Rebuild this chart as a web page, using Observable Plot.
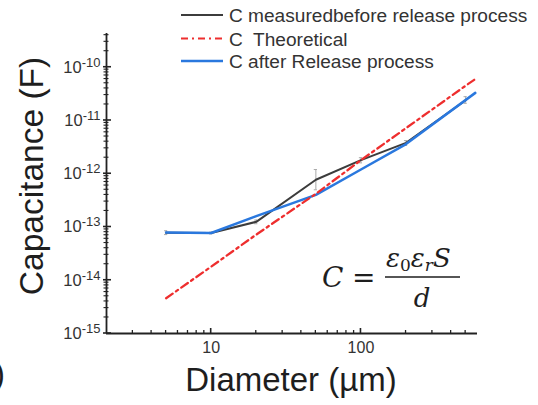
<!DOCTYPE html>
<html><head><meta charset="utf-8">
<script src="https://cdn.jsdelivr.net/npm/d3@7"></script>
<script src="https://cdn.jsdelivr.net/npm/@observablehq/plot@0.6"></script>
<style>
body{margin:0;background:#fff;}
#chart{position:relative;width:538px;height:405px;overflow:hidden;}
</style>
</head><body><div id="chart"></div>
<script>
// ---- data ----
const measuredDiam   = [5, 10, 20, 50, 100, 200, 500];
const measuredBefore = [7.8e-14, 7.7e-14, 1.25e-13, 7.7e-13, 1.8e-12, 3.8e-12, 2.4e-11];
const measuredErrLow = [7.2e-14, 7.4e-14, 1.15e-13, 5.0e-13, 1.6e-12, 3.4e-12, 2.1e-11];
const measuredErrHigh= [8.5e-14, 8.0e-14, 1.35e-13, 1.2e-12, 2.0e-12, 4.2e-12, 2.8e-11];
const afterDiam      = [5, 10, 20, 50, 100, 200, 580];
const afterRelease   = [7.9e-14, 7.7e-14, 1.6e-13, 4.0e-13, 1.2e-12, 3.6e-12, 3.3e-11];
const theoDiam       = [5, 10, 20, 50, 100, 200, 500, 570];
const theoretical    = [4.6e-15, 1.8e-14, 7.2e-14, 4.2e-13, 1.8e-12, 7.2e-12, 4.5e-11, 5.8e-11];
const xMajor = [10, 100];
const xMinor = [3,4,5,6,7,8,9,20,30,40,50,60,70,80,90,200,300,400,500];
const yMajor = [1e-15, 1e-14, 1e-13, 1e-12, 1e-11, 1e-10];
const yMinorMult = [2,3,4,5,6,7,8,9];
const legendLabels = ["C measuredbefore release process", "C  Theoretical", "C after Release process"];
const xLabel = "Diameter (µm)";
const yLabel = "Capacitance (F)";

const xMin = 2, xMax = 600, yMin = 1e-15, yMax = 4.3e-10;
const yMinor = [];
for (const m of yMajor) for (const k of yMinorMult) if (m*k < yMax) yMinor.push(m*k);

const measured = measuredDiam.map((d,i)=>({d, c: measuredBefore[i], lo: measuredErrLow[i], hi: measuredErrHigh[i]}));
const after = afterDiam.map((d,i)=>({d, c: afterRelease[i]}));
const theory = theoDiam.map((d,i)=>({d, c: theoretical[i]}));

const font = "'Liberation Sans', Arial, sans-serif";
const axisColor = "#222";

const svg = Plot.plot({
  width: 538, height: 405,
  marginLeft: 106, marginRight: 61, marginTop: 33, marginBottom: 72,
  style: {fontFamily: font, background: "white", color: axisColor},
  x: {type: "log", domain: [xMin, xMax]},
  y: {type: "log", domain: [yMin, yMax]},
  marks: [
    Plot.axisY({ticks: yMajor, tickSize: 0, tickPadding: 6, fontSize: 16.5, label: null, color: "#333",
      tickFormat: d => String(Math.round(Math.log10(d)))}),
    Plot.axisX({ticks: xMajor, tickSize: 0, tickPadding: 8, fontSize: 16, label: null, color: "#333",
      tickFormat: d => String(d)}),
    Plot.ruleX([xMin], {stroke: axisColor, strokeWidth: 1.8}),
    Plot.ruleY([yMin], {stroke: axisColor, strokeWidth: 1.8}),
    // error bars
    Plot.ruleX(measured, {x: "d", y1: "lo", y2: "hi", stroke: "#aaa", strokeWidth: 1}),
    Plot.ruleY(measured, {y: "hi", x1: d => d.d/1.025, x2: d => d.d*1.025, stroke: "#aaa", strokeWidth: 1}),
    Plot.ruleY(measured, {y: "lo", x1: d => d.d/1.025, x2: d => d.d*1.025, stroke: "#aaa", strokeWidth: 1}),
    Plot.line(measured, {x: "d", y: "c", stroke: "#3c3c3c", strokeWidth: 2}),
    Plot.line(after, {x: "d", y: "c", stroke: "#2a78de", strokeWidth: 2.5}),
    Plot.line(theory, {x: "d", y: "c", stroke: "#ee2e2e", strokeWidth: 2.3, strokeDasharray: "8,4,2.5,4"})
  ]
});
document.getElementById("chart").appendChild(svg);

const s = d3.select(svg);
const X = svg.scale("x"), Y = svg.scale("y");
const x0 = X.apply(xMin), y0 = Y.apply(yMin);

// tick marks placed through Plot's own scales
const tg = s.append("g").attr("stroke", axisColor);
yMajor.forEach(v => tg.append("line").attr("x1", x0 - 3).attr("x2", x0 + 5)
  .attr("y1", Y.apply(v)).attr("y2", Y.apply(v)).attr("stroke-width", 1.6));
yMinor.forEach(v => tg.append("line").attr("x1", x0 - 2.5).attr("x2", x0 + 2.5)
  .attr("y1", Y.apply(v)).attr("y2", Y.apply(v)).attr("stroke-width", 1.1));
xMajor.forEach(v => tg.append("line").attr("x1", X.apply(v)).attr("x2", X.apply(v))
  .attr("y1", y0).attr("y2", y0 - 5).attr("stroke-width", 1.6));
xMinor.forEach(v => tg.append("line").attr("x1", X.apply(v)).attr("x2", X.apply(v))
  .attr("y1", y0).attr("y2", y0 - 3).attr("stroke-width", 1.3));

// superscript exponents on y tick labels
s.selectAll('g[aria-label="y-axis tick label"] text').each(function(){
  const t = d3.select(this);
  const e = this.textContent;
  t.text(null).style("font-size", "16.5px");
  t.append("tspan").text("10");
  t.append("tspan").attr("dy", -6).style("font-size", "13px").text(e);
});
s.selectAll('g[aria-label="x-axis tick label"] text').style("font-size", "16px");

// axis titles
s.append("text").attr("transform", "translate(43,176) rotate(-90)")
  .attr("text-anchor", "middle").attr("font-family", font).attr("font-size", 33.5).attr("fill", "#1e1e1e").text(yLabel);
s.append("text").attr("x", 291).attr("y", 391)
  .attr("text-anchor", "middle").attr("font-family", font).attr("font-size", 33).attr("fill", "#1e1e1e").text(xLabel);
s.append("text").attr("x", -6).attr("y", 385).attr("text-anchor", "start").attr("font-family", font).attr("font-size", 33).attr("fill", "#1e1e1e").text(")");

// legend
const legendStyles = [
  {stroke: "#3c3c3c", dash: null, w: 2},
  {stroke: "#ee2e2e", dash: "7,4,2,4", w: 2},
  {stroke: "#2a78de", dash: null, w: 2.5}
];
const legendY = [15, 38.5, 61];
legendLabels.forEach((lab, i) => {
  const st = legendStyles[i];
  s.append("line").attr("x1", 181).attr("x2", 223).attr("y1", legendY[i]).attr("y2", legendY[i])
    .attr("stroke", st.stroke).attr("stroke-width", st.w).attr("stroke-dasharray", st.dash);
  s.append("text").attr("x", 229).attr("y", legendY[i] + 7).attr("text-anchor", "start").attr("font-family", font)
    .attr("font-size", 19.1).attr("fill", "#333").style("white-space", "pre").text(lab);
});

// formula annotation
const mf = "'DejaVu Serif', serif";
const g = s.append("g").attr("font-family", mf).attr("font-style", "italic").attr("fill", "#1e1e1e").attr("text-anchor", "start");
g.append("text").attr("x", 322).attr("y", 287).attr("font-size", 28).text("C");
g.append("text").attr("x", 352).attr("y", 287).attr("font-size", 28).attr("font-style", "normal").text("=");
const num = g.append("text").attr("x", 386).attr("y", 267).attr("font-size", 26);
num.append("tspan").text("ε");
num.append("tspan").attr("dy", 4).attr("font-size", 17).attr("font-style", "normal").text("0");
num.append("tspan").attr("dy", -4).text("ε");
num.append("tspan").attr("dy", 4).attr("font-size", 17).text("r");
num.append("tspan").attr("dy", -4).text("S");
g.append("line").attr("x1", 385).attr("x2", 460).attr("y1", 277).attr("y2", 277).attr("stroke", "#1e1e1e").attr("stroke-width", 1.6);
g.append("text").attr("x", 422).attr("y", 307).attr("text-anchor", "middle").attr("font-size", 26).text("d");
</script>
</body></html>
